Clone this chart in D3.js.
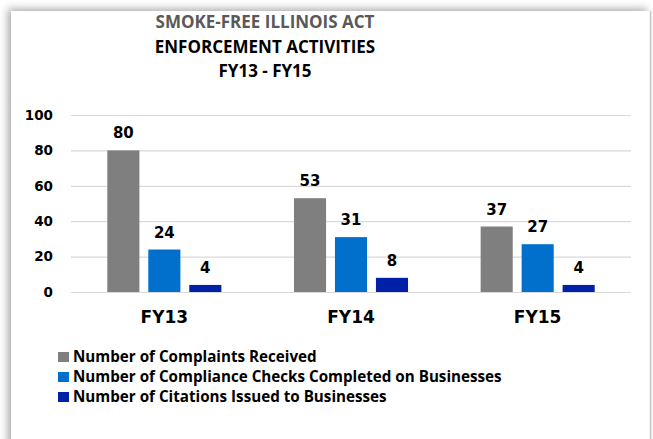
<!DOCTYPE html>
<html>
<head>
<meta charset="utf-8">
<script src="https://cdn.jsdelivr.net/npm/d3@7"></script>
<style>
  html, body { margin: 0; padding: 0; background: #fff; }
  #chart { width: 653px; height: 439px; overflow: hidden; }
</style>
</head>
<body>
<div id="chart"></div>
<script>
// Smoke-Free Illinois Act enforcement activities, grouped bars per fiscal year

const years = ["FY13", "FY14", "FY15"];
const seriesNames = [
  "Number of Complaints Received",
  "Number of Compliance Checks Completed on Businesses",
  "Number of Citations Issued to Businesses"
];
const complaints = [80, 53, 37];
const checks = [24, 31, 27];
const citations = [4, 8, 4];
const yTicks = [0, 20, 40, 60, 80, 100];
const titleLines = ["SMOKE-FREE ILLINOIS ACT", "ENFORCEMENT ACTIVITIES", "FY13 - FY15"];

const colors = ["#7f7f7f", "#0070cc", "#0020a8"];
const seriesValues = [complaints, checks, citations];

const width = 653, height = 439;
const plot = { left: 71, right: 631, top: 115, bottom: 292 };

const svg = d3.select("#chart").append("svg")
  .attr("width", width).attr("height", height);

// panel shadow
const defs = svg.append("defs");
const f = defs.append("filter").attr("id", "shadow")
  .attr("x", "-10%").attr("y", "-10%").attr("width", "120%").attr("height", "120%");
f.append("feDropShadow")
  .attr("dx", -3).attr("dy", -2).attr("stdDeviation", 4)
  .attr("flood-color", "#000").attr("flood-opacity", 0.35);

svg.append("rect")
  .attr("x", 11).attr("y", 11)
  .attr("width", 639).attr("height", 460)
  .attr("fill", "#fff")
  .attr("filter", "url(#shadow)");
svg.append("line")
  .attr("x1", 650.5).attr("x2", 650.5).attr("y1", 11).attr("y2", height)
  .attr("stroke", "#c8c8c8").attr("stroke-width", 1.5);

// title
svg.append("g").selectAll("text")
  .data(titleLines)
  .join("text")
  .attr("x", 265).attr("y", (d, i) => 28 + i * 24.5)
  .attr("text-anchor", "middle")
  .attr("font-family", "'Open Sans', 'Noto Sans', sans-serif")
  .attr("font-weight", 700)
  .attr("font-size", "17px")
  .attr("fill", (d, i) => i === 0 ? "#595959" : "#000")
  .text(d => d);

const y = d3.scaleLinear().domain([0, 100]).range([plot.bottom, plot.top]);

const x0 = d3.scaleBand().domain(years)
  .range([plot.left, plot.right])
  .paddingInner(0.389).paddingOuter(0.1945);

const x1 = d3.scaleBand().domain(d3.range(seriesNames.length))
  .range([0, x0.bandwidth()])
  .paddingInner(0.217).paddingOuter(0);

// gridlines
const yAxis = d3.axisLeft(y).tickValues(yTicks)
  .tickSize(-(plot.right - plot.left)).tickPadding(18);
const ga = svg.append("g")
  .attr("transform", `translate(${plot.left},0)`)
  .call(yAxis);
ga.select(".domain").remove();
ga.selectAll(".tick line").attr("stroke", "#d9d9d9").attr("stroke-width", 1.2);
ga.selectAll(".tick text")
  .attr("font-family", "'DejaVu Sans', Verdana, sans-serif")
  .attr("font-weight", 700)
  .attr("font-size", "13.5px")
  .attr("fill", "#000");

// bars
const groups = svg.append("g").selectAll("g")
  .data(years)
  .join("g")
  .attr("transform", d => `translate(${x0(d)},0)`);

groups.selectAll("rect")
  .data((d, i) => seriesValues.map((vals, s) => ({ s, v: vals[i] })))
  .join("rect")
  .attr("x", d => x1(d.s))
  .attr("width", x1.bandwidth())
  .attr("y", d => y(d.v))
  .attr("height", d => y(0) - y(d.v))
  .attr("fill", d => colors[d.s]);

groups.selectAll("text.val")
  .data((d, i) => seriesValues.map((vals, s) => ({ s, v: vals[i] })))
  .join("text")
  .attr("class", "val")
  .attr("x", d => x1(d.s) + x1.bandwidth() / 2)
  .attr("y", d => y(d.v) - 12)
  .attr("text-anchor", "middle")
  .attr("font-family", "'DejaVu Sans', Verdana, sans-serif")
  .attr("font-weight", 700)
  .attr("font-size", "15px")
  .attr("fill", "#000")
  .text(d => d.v);

// category axis labels
const xAxis = d3.axisBottom(x0).tickSize(0).tickPadding(19);
const gx = svg.append("g")
  .attr("transform", `translate(0,${plot.bottom})`)
  .call(xAxis);
gx.select(".domain").remove();
gx.selectAll(".tick text")
  .attr("font-family", "'DejaVu Sans', Verdana, sans-serif")
  .attr("font-weight", 700)
  .attr("font-size", "17px")
  .attr("fill", "#000");

// legend
const legend = svg.append("g").attr("transform", "translate(58,351)");
const items = legend.selectAll("g")
  .data(seriesNames)
  .join("g")
  .attr("transform", (d, i) => `translate(0,${i * 20})`);
items.append("rect")
  .attr("x", 0).attr("y", 1)
  .attr("width", 11).attr("height", 10)
  .attr("fill", (d, i) => colors[i]);
items.append("text")
  .attr("x", 15).attr("y", 11)
  .attr("font-family", "'Open Sans', 'Noto Sans', sans-serif")
  .attr("font-weight", 700)
  .attr("font-size", "15.2px")
  .attr("fill", "#000")
  .text(d => d);
</script>
</body>
</html>
